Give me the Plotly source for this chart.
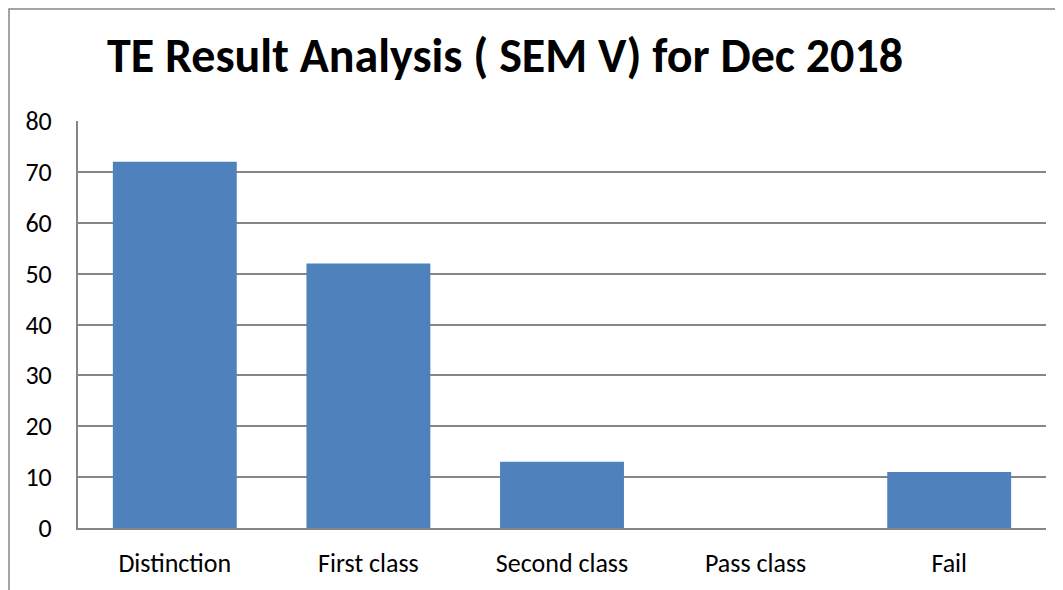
import plotly.graph_objects as go

categories = ["Distinction", "First class", "Second class", "Pass class", "Fail"]
values = [72, 52, 13, 0, 11]
y_ticks = [0, 10, 20, 30, 40, 50, 60, 70, 80]

OFF = 8  # default body margin of the page
W, H = 1063 - OFF, 590 - OFF
L, T = 78 - OFF, 121 - OFF
R = W - (1046 - OFF)
B = H - (528 - OFF)
pw, ph = W - L - R, H - T - B

def px_x(x):  # page pixel -> paper
    return (x - OFF - L) / pw

def px_y(y):
    return (H - B - (y - OFF)) / ph

font_fam = "Carlito, Calibri, Lato, sans-serif"

fig = go.Figure(go.Bar(
    x=categories, y=values,
    marker=dict(color="#4F81BD", line=dict(width=0)),
    width=0.64,
))

fig.update_layout(
    width=W, height=H,
    margin=dict(l=L, r=R, t=T, b=B, pad=0, autoexpand=False),
    paper_bgcolor="white", plot_bgcolor="white",
    showlegend=False,
    title=dict(
        text="<b>TE Result Analysis ( SEM V) for Dec 2018</b>",
        x=(505 - OFF) / W, xanchor="center", xref="container",
        y=1 - (55 - OFF) / H, yanchor="middle", yref="container",
        font=dict(family=font_fam, size=48, color="black"),
    ),
    font=dict(family=font_fam, size=26, color="black"),
    shapes=[dict(
        type="rect", xref="paper", yref="paper",
        x0=px_x(9), x1=px_x(1075), y0=px_y(620), y1=px_y(9),
        line=dict(color="#868686", width=1.5), fillcolor="rgba(0,0,0,0)",
        layer="below",
    )],
)

fig.update_xaxes(
    showgrid=False, showline=True, linecolor="#868686", linewidth=2,
    ticks="", ticklabelstandoff=11, automargin=False,
    tickfont=dict(family=font_fam, size=26, color="black"),
)
fig.update_yaxes(
    range=[0, 80], tickvals=y_ticks,
    showgrid=True, gridcolor="#868686", gridwidth=1.5,
    showline=True, linecolor="#868686", linewidth=2,
    ticks="", ticklabelstandoff=19, zeroline=False, automargin=False,
    tickfont=dict(family=font_fam, size=26, color="black"),
)

fig.write_html("out.html", config={"displayModeBar": False})
